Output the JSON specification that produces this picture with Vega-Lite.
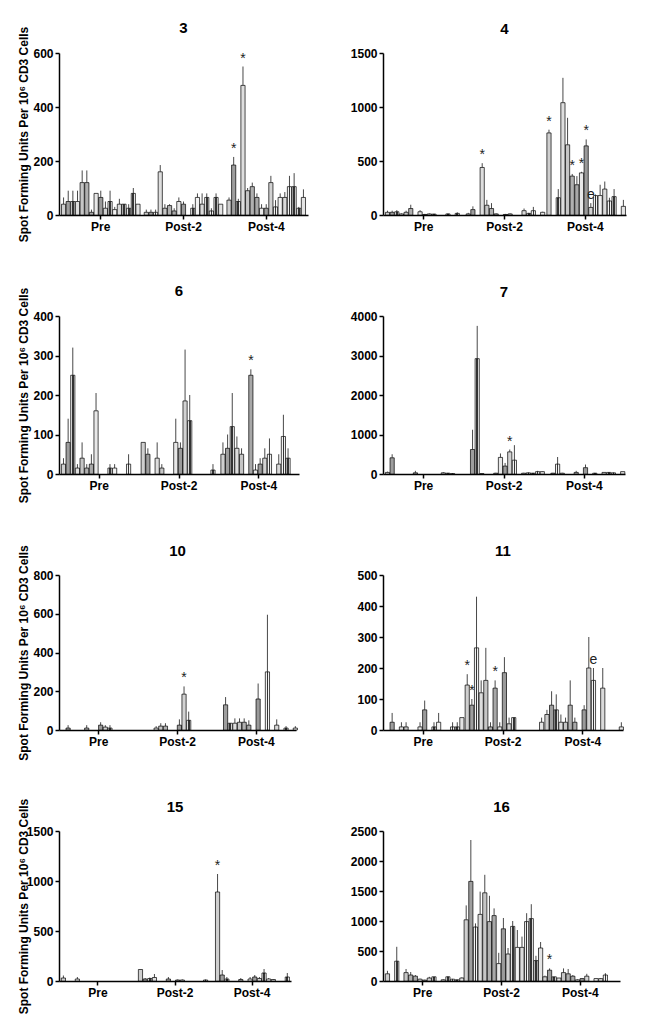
{
  "$schema": "https://vega.github.io/schema/vega-lite/v6.json",
  "background": "white",
  "padding": {"top": 21, "left": 16, "right": 5, "bottom": 5},
  "bounds": "flush",
  "data": {
    "values": [
      {"p":3,"g":"Pre","i":0,"v":40,"e":65},{"p":3,"g":"Pre","i":1,"v":50,"e":90},{"p":3,"g":"Pre","i":2,"v":50,"e":90},{"p":3,"g":"Pre","i":3,"v":50,"e":90},{"p":3,"g":"Pre","i":4,"v":120,"e":165},{"p":3,"g":"Pre","i":5,"v":120,"e":165},{"p":3,"g":"Pre","i":6,"v":10,"e":20},{"p":3,"g":"Pre","i":7,"v":80,"e":80},{"p":3,"g":"Pre","i":8,"v":65,"e":90},{"p":3,"g":"Pre","i":9,"v":25,"e":50},{"p":3,"g":"Pre","i":10,"v":50,"e":90},{"p":3,"g":"Pre","i":11,"v":20,"e":30},{"p":3,"g":"Pre","i":12,"v":40,"e":60},{"p":3,"g":"Pre","i":13,"v":40,"e":40},{"p":3,"g":"Pre","i":14,"v":25,"e":40},{"p":3,"g":"Pre","i":15,"v":80,"e":100},{"p":3,"g":"Pre","i":16,"v":40,"e":40},
      {"p":3,"g":"Post-2","i":0,"v":10,"e":20},{"p":3,"g":"Post-2","i":1,"v":10,"e":20},{"p":3,"g":"Post-2","i":2,"v":10,"e":20},{"p":3,"g":"Post-2","i":3,"v":160,"e":185},{"p":3,"g":"Post-2","i":4,"v":25,"e":40},{"p":3,"g":"Post-2","i":5,"v":35,"e":40},{"p":3,"g":"Post-2","i":6,"v":15,"e":25},{"p":3,"g":"Post-2","i":7,"v":50,"e":65},{"p":3,"g":"Post-2","i":8,"v":40,"e":50},{"p":3,"g":"Post-2","i":10,"v":25,"e":40},{"p":3,"g":"Post-2","i":11,"v":65,"e":80},{"p":3,"g":"Post-2","i":12,"v":40,"e":80},{"p":3,"g":"Post-2","i":13,"v":65,"e":80},{"p":3,"g":"Post-2","i":14,"v":15,"e":25},{"p":3,"g":"Post-2","i":15,"v":65,"e":80},{"p":3,"g":"Post-2","i":16,"v":40,"e":40},
      {"p":3,"g":"Post-4","i":0,"v":55,"e":65},{"p":3,"g":"Post-4","i":1,"v":185,"e":215,"s":"*"},{"p":3,"g":"Post-4","i":2,"v":50,"e":60},{"p":3,"g":"Post-4","i":3,"v":480,"e":550,"s":"*"},{"p":3,"g":"Post-4","i":4,"v":90,"e":100},{"p":3,"g":"Post-4","i":5,"v":105,"e":120},{"p":3,"g":"Post-4","i":6,"v":65,"e":80},{"p":3,"g":"Post-4","i":7,"v":25,"e":40},{"p":3,"g":"Post-4","i":8,"v":25,"e":40},{"p":3,"g":"Post-4","i":9,"v":120,"e":145},{"p":3,"g":"Post-4","i":10,"v":30,"e":55},{"p":3,"g":"Post-4","i":11,"v":65,"e":80},{"p":3,"g":"Post-4","i":12,"v":65,"e":85},{"p":3,"g":"Post-4","i":13,"v":105,"e":145},{"p":3,"g":"Post-4","i":14,"v":105,"e":155},{"p":3,"g":"Post-4","i":15,"v":25,"e":30},{"p":3,"g":"Post-4","i":16,"v":65,"e":95},

      {"p":4,"g":"Pre","i":0,"v":25,"e":40},{"p":4,"g":"Pre","i":1,"v":25,"e":40},{"p":4,"g":"Pre","i":2,"v":30,"e":45},{"p":4,"g":"Pre","i":3,"v":10,"e":15},{"p":4,"g":"Pre","i":4,"v":25,"e":40},{"p":4,"g":"Pre","i":5,"v":60,"e":95},{"p":4,"g":"Pre","i":7,"v":30,"e":45},{"p":4,"g":"Pre","i":8,"v":5,"e":10},{"p":4,"g":"Pre","i":9,"v":10,"e":15},{"p":4,"g":"Pre","i":10,"v":8,"e":12},{"p":4,"g":"Pre","i":13,"v":10,"e":15},{"p":4,"g":"Pre","i":15,"v":15,"e":25},
      {"p":4,"g":"Post-2","i":0,"v":10,"e":20},{"p":4,"g":"Post-2","i":1,"v":50,"e":80},{"p":4,"g":"Post-2","i":3,"v":440,"e":480,"s":"*"},{"p":4,"g":"Post-2","i":4,"v":90,"e":140},{"p":4,"g":"Post-2","i":5,"v":60,"e":110},{"p":4,"g":"Post-2","i":6,"v":10,"e":15},{"p":4,"g":"Post-2","i":8,"v":5,"e":10},{"p":4,"g":"Post-2","i":9,"v":10,"e":15},{"p":4,"g":"Post-2","i":12,"v":40,"e":60},{"p":4,"g":"Post-2","i":13,"v":15,"e":20},{"p":4,"g":"Post-2","i":14,"v":40,"e":75},{"p":4,"g":"Post-2","i":16,"v":25,"e":30},
      {"p":4,"g":"Post-4","i":0,"v":760,"e":790,"s":"*"},{"p":4,"g":"Post-4","i":2,"v":160,"e":240},{"p":4,"g":"Post-4","i":3,"v":1040,"e":1270},{"p":4,"g":"Post-4","i":4,"v":650,"e":900},{"p":4,"g":"Post-4","i":5,"v":360,"e":380,"s":"*"},{"p":4,"g":"Post-4","i":6,"v":280,"e":360},{"p":4,"g":"Post-4","i":7,"v":390,"e":400,"s":"*"},{"p":4,"g":"Post-4","i":8,"v":640,"e":700,"s":"*"},{"p":4,"g":"Post-4","i":9,"v":70,"e":110,"s":"e"},{"p":4,"g":"Post-4","i":10,"v":180,"e":190},{"p":4,"g":"Post-4","i":11,"v":180,"e":280},{"p":4,"g":"Post-4","i":12,"v":240,"e":310},{"p":4,"g":"Post-4","i":13,"v":130,"e":160},{"p":4,"g":"Post-4","i":14,"v":170,"e":240},{"p":4,"g":"Post-4","i":16,"v":80,"e":140},

      {"p":6,"g":"Pre","i":0,"v":25,"e":40},{"p":6,"g":"Pre","i":1,"v":80,"e":140},{"p":6,"g":"Pre","i":2,"v":250,"e":320},{"p":6,"g":"Pre","i":3,"v":15,"e":25},{"p":6,"g":"Pre","i":4,"v":40,"e":80},{"p":6,"g":"Pre","i":5,"v":15,"e":25},{"p":6,"g":"Pre","i":6,"v":25,"e":50},{"p":6,"g":"Pre","i":7,"v":160,"e":205},{"p":6,"g":"Pre","i":10,"v":15,"e":25},{"p":6,"g":"Pre","i":11,"v":15,"e":25},{"p":6,"g":"Pre","i":14,"v":25,"e":50},
      {"p":6,"g":"Post-2","i":0,"v":80,"e":80},{"p":6,"g":"Post-2","i":1,"v":50,"e":65},{"p":6,"g":"Post-2","i":3,"v":40,"e":80},{"p":6,"g":"Post-2","i":4,"v":15,"e":25},{"p":6,"g":"Post-2","i":7,"v":80,"e":140},{"p":6,"g":"Post-2","i":8,"v":65,"e":80},{"p":6,"g":"Post-2","i":9,"v":185,"e":315},{"p":6,"g":"Post-2","i":10,"v":135,"e":200},{"p":6,"g":"Post-2","i":15,"v":10,"e":25},
      {"p":6,"g":"Post-4","i":0,"v":50,"e":80},{"p":6,"g":"Post-4","i":1,"v":65,"e":100},{"p":6,"g":"Post-4","i":2,"v":120,"e":205},{"p":6,"g":"Post-4","i":3,"v":65,"e":95},{"p":6,"g":"Post-4","i":4,"v":50,"e":65},{"p":6,"g":"Post-4","i":6,"v":250,"e":265,"s":"*"},{"p":6,"g":"Post-4","i":7,"v":10,"e":25},{"p":6,"g":"Post-4","i":8,"v":25,"e":40},{"p":6,"g":"Post-4","i":9,"v":40,"e":65},{"p":6,"g":"Post-4","i":10,"v":50,"e":90},{"p":6,"g":"Post-4","i":12,"v":25,"e":50},{"p":6,"g":"Post-4","i":13,"v":95,"e":150},{"p":6,"g":"Post-4","i":14,"v":40,"e":65},

      {"p":7,"g":"Pre","i":0,"v":40,"e":60},{"p":7,"g":"Pre","i":1,"v":410,"e":500},{"p":7,"g":"Pre","i":6,"v":30,"e":80},{"p":7,"g":"Pre","i":12,"v":30,"e":50},{"p":7,"g":"Pre","i":13,"v":20,"e":30},{"p":7,"g":"Pre","i":14,"v":10,"e":20},
      {"p":7,"g":"Post-2","i":1,"v":620,"e":1120},{"p":7,"g":"Post-2","i":2,"v":2920,"e":3750},{"p":7,"g":"Post-2","i":3,"v":10,"e":20},{"p":7,"g":"Post-2","i":6,"v":20,"e":30},{"p":7,"g":"Post-2","i":7,"v":420,"e":520},{"p":7,"g":"Post-2","i":8,"v":200,"e":280},{"p":7,"g":"Post-2","i":9,"v":560,"e":620,"s":"*"},{"p":7,"g":"Post-2","i":10,"v":350,"e":730},{"p":7,"g":"Post-2","i":12,"v":20,"e":30},{"p":7,"g":"Post-2","i":13,"v":30,"e":40},{"p":7,"g":"Post-2","i":14,"v":20,"e":30},{"p":7,"g":"Post-2","i":15,"v":60,"e":80},{"p":7,"g":"Post-2","i":16,"v":60,"e":70},
      {"p":7,"g":"Post-4","i":1,"v":20,"e":30},{"p":7,"g":"Post-4","i":2,"v":250,"e":430},{"p":7,"g":"Post-4","i":3,"v":20,"e":30},{"p":7,"g":"Post-4","i":6,"v":40,"e":80},{"p":7,"g":"Post-4","i":8,"v":160,"e":240},{"p":7,"g":"Post-4","i":10,"v":20,"e":30},{"p":7,"g":"Post-4","i":12,"v":40,"e":50},{"p":7,"g":"Post-4","i":13,"v":40,"e":50},{"p":7,"g":"Post-4","i":14,"v":30,"e":40},{"p":7,"g":"Post-4","i":16,"v":60,"e":60},

      {"p":10,"g":"Pre","i":1,"v":10,"e":25},{"p":10,"g":"Pre","i":5,"v":10,"e":25},{"p":10,"g":"Pre","i":8,"v":25,"e":40},{"p":10,"g":"Pre","i":9,"v":15,"e":25},{"p":10,"g":"Pre","i":10,"v":10,"e":25},
      {"p":10,"g":"Post-2","i":3,"v":10,"e":20},{"p":10,"g":"Post-2","i":4,"v":20,"e":35},{"p":10,"g":"Post-2","i":5,"v":20,"e":35},{"p":10,"g":"Post-2","i":8,"v":25,"e":55},{"p":10,"g":"Post-2","i":9,"v":185,"e":225,"s":"*"},{"p":10,"g":"Post-2","i":10,"v":50,"e":95},
      {"p":10,"g":"Post-4","i":1,"v":130,"e":170},{"p":10,"g":"Post-4","i":2,"v":35,"e":35},{"p":10,"g":"Post-4","i":3,"v":35,"e":60},{"p":10,"g":"Post-4","i":4,"v":40,"e":60},{"p":10,"g":"Post-4","i":5,"v":40,"e":60},{"p":10,"g":"Post-4","i":6,"v":25,"e":50},{"p":10,"g":"Post-4","i":8,"v":160,"e":240},{"p":10,"g":"Post-4","i":10,"v":300,"e":595},{"p":10,"g":"Post-4","i":12,"v":25,"e":55},{"p":10,"g":"Post-4","i":14,"v":10,"e":20},{"p":10,"g":"Post-4","i":16,"v":10,"e":20},

      {"p":11,"g":"Pre","i":1,"v":25,"e":55},{"p":11,"g":"Pre","i":3,"v":10,"e":25},{"p":11,"g":"Pre","i":4,"v":10,"e":25},{"p":11,"g":"Pre","i":7,"v":10,"e":25},{"p":11,"g":"Pre","i":8,"v":65,"e":95},{"p":11,"g":"Pre","i":10,"v":10,"e":25},{"p":11,"g":"Pre","i":11,"v":25,"e":55},{"p":11,"g":"Pre","i":14,"v":10,"e":25},{"p":11,"g":"Pre","i":15,"v":10,"e":25},{"p":11,"g":"Pre","i":16,"v":40,"e":40},
      {"p":11,"g":"Post-2","i":0,"v":145,"e":180,"s":"*"},{"p":11,"g":"Post-2","i":1,"v":80,"e":100,"s":"*"},{"p":11,"g":"Post-2","i":2,"v":265,"e":430},{"p":11,"g":"Post-2","i":3,"v":120,"e":160},{"p":11,"g":"Post-2","i":4,"v":160,"e":265},{"p":11,"g":"Post-2","i":5,"v":10,"e":25},{"p":11,"g":"Post-2","i":6,"v":135,"e":160,"s":"*"},{"p":11,"g":"Post-2","i":7,"v":10,"e":25},{"p":11,"g":"Post-2","i":8,"v":185,"e":235},{"p":11,"g":"Post-2","i":9,"v":20,"e":40},{"p":11,"g":"Post-2","i":10,"v":40,"e":40},{"p":11,"g":"Post-2","i":16,"v":25,"e":40},
      {"p":11,"g":"Post-4","i":0,"v":50,"e":65},{"p":11,"g":"Post-4","i":1,"v":80,"e":125},{"p":11,"g":"Post-4","i":2,"v":65,"e":115},{"p":11,"g":"Post-4","i":3,"v":25,"e":50},{"p":11,"g":"Post-4","i":4,"v":25,"e":40},{"p":11,"g":"Post-4","i":5,"v":80,"e":160},{"p":11,"g":"Post-4","i":6,"v":25,"e":40},{"p":11,"g":"Post-4","i":8,"v":65,"e":80},{"p":11,"g":"Post-4","i":9,"v":200,"e":300},{"p":11,"g":"Post-4","i":10,"v":160,"e":200,"s":"e"},{"p":11,"g":"Post-4","i":12,"v":135,"e":200},{"p":11,"g":"Post-4","i":16,"v":10,"e":25},

      {"p":15,"g":"Pre","i":0,"v":30,"e":55},{"p":15,"g":"Pre","i":3,"v":20,"e":40},
      {"p":15,"g":"Post-2","i":0,"v":115,"e":115},{"p":15,"g":"Post-2","i":1,"v":20,"e":30},{"p":15,"g":"Post-2","i":2,"v":25,"e":35},{"p":15,"g":"Post-2","i":3,"v":35,"e":70},{"p":15,"g":"Post-2","i":6,"v":20,"e":40},{"p":15,"g":"Post-2","i":8,"v":10,"e":15},{"p":15,"g":"Post-2","i":9,"v":10,"e":15},{"p":15,"g":"Post-2","i":14,"v":10,"e":15},
      {"p":15,"g":"Post-4","i":0,"v":890,"e":1070,"s":"*"},{"p":15,"g":"Post-4","i":1,"v":60,"e":110},{"p":15,"g":"Post-4","i":2,"v":20,"e":40},{"p":15,"g":"Post-4","i":5,"v":15,"e":30},{"p":15,"g":"Post-4","i":7,"v":20,"e":40},{"p":15,"g":"Post-4","i":8,"v":40,"e":60},{"p":15,"g":"Post-4","i":9,"v":25,"e":40},{"p":15,"g":"Post-4","i":10,"v":80,"e":120},{"p":15,"g":"Post-4","i":11,"v":20,"e":30},{"p":15,"g":"Post-4","i":12,"v":15,"e":20},{"p":15,"g":"Post-4","i":15,"v":40,"e":80},

      {"p":16,"g":"Pre","i":0,"v":120,"e":170},{"p":16,"g":"Pre","i":2,"v":330,"e":570},{"p":16,"g":"Pre","i":4,"v":140,"e":200},{"p":16,"g":"Pre","i":5,"v":100,"e":150},{"p":16,"g":"Pre","i":6,"v":80,"e":100},{"p":16,"g":"Pre","i":7,"v":30,"e":40},{"p":16,"g":"Pre","i":8,"v":15,"e":20},{"p":16,"g":"Pre","i":9,"v":50,"e":70},{"p":16,"g":"Pre","i":10,"v":70,"e":70},{"p":16,"g":"Pre","i":12,"v":20,"e":30},{"p":16,"g":"Pre","i":13,"v":70,"e":80},{"p":16,"g":"Pre","i":14,"v":30,"e":35},{"p":16,"g":"Pre","i":15,"v":20,"e":25},{"p":16,"g":"Pre","i":16,"v":50,"e":60},
      {"p":16,"g":"Post-2","i":0,"v":1020,"e":1260},{"p":16,"g":"Post-2","i":1,"v":1660,"e":2350},{"p":16,"g":"Post-2","i":2,"v":900,"e":960},{"p":16,"g":"Post-2","i":3,"v":1110,"e":1490},{"p":16,"g":"Post-2","i":4,"v":1470,"e":1770},{"p":16,"g":"Post-2","i":5,"v":990,"e":1420},{"p":16,"g":"Post-2","i":6,"v":1090,"e":1210},{"p":16,"g":"Post-2","i":7,"v":290,"e":470},{"p":16,"g":"Post-2","i":8,"v":870,"e":1050},{"p":16,"g":"Post-2","i":9,"v":450,"e":550},{"p":16,"g":"Post-2","i":10,"v":910,"e":1000},{"p":16,"g":"Post-2","i":11,"v":560,"e":850},{"p":16,"g":"Post-2","i":12,"v":560,"e":740},{"p":16,"g":"Post-2","i":13,"v":990,"e":1130},{"p":16,"g":"Post-2","i":14,"v":1040,"e":1280},{"p":16,"g":"Post-2","i":15,"v":340,"e":420},{"p":16,"g":"Post-2","i":16,"v":550,"e":650},
      {"p":16,"g":"Post-4","i":0,"v":70,"e":90},{"p":16,"g":"Post-4","i":1,"v":180,"e":210,"s":"*"},{"p":16,"g":"Post-4","i":2,"v":70,"e":70},{"p":16,"g":"Post-4","i":3,"v":50,"e":50},{"p":16,"g":"Post-4","i":4,"v":140,"e":210},{"p":16,"g":"Post-4","i":5,"v":120,"e":200},{"p":16,"g":"Post-4","i":6,"v":80,"e":100},{"p":16,"g":"Post-4","i":7,"v":20,"e":30},{"p":16,"g":"Post-4","i":8,"v":40,"e":50},{"p":16,"g":"Post-4","i":9,"v":80,"e":120},{"p":16,"g":"Post-4","i":11,"v":40,"e":50},{"p":16,"g":"Post-4","i":12,"v":40,"e":50},{"p":16,"g":"Post-4","i":13,"v":100,"e":130}
    ]
  },
  "columns": 2,
  "spacing": {"row": 101, "column": 75},
  "concat": [
    {
      "title": {"text": "3", "offset": -10},
      "width": 249, "height": 162,
      "transform": [{"filter": "datum.p == 3"}],
      "encoding": {
        "x": {"field": "g", "type": "nominal", "title": null, "scale": {"domain": ["Pre", "Post-2", "Post-4"], "paddingInner": 0.05, "paddingOuter": 0.03}, "axis": {"labelAngle": 0}},
        "xOffset": {"field": "i", "type": "nominal", "scale": {"domain": [0,1,2,3,4,5,6,7,8,9,10,11,12,13,14,15,16], "paddingInner": 0.1}}
      },
      "layer": [
        {"transform": [{"filter": "datum.e > datum.v"}], "mark": {"type": "rule", "color": "#333", "strokeWidth": 0.9},
         "encoding": {"y": {"field": "v", "type": "quantitative", "title": "Spot Forming Units Per 10⁶ CD3 Cells", "scale": {"domain": [0, 600], "nice": false}, "axis": {"values": [0, 200, 400, 600], "format": "d"}}, "y2": {"field": "e"}}},
        {"mark": {"type": "bar", "stroke": "black", "strokeWidth": 0.7},
         "encoding": {"y": {"field": "v", "type": "quantitative", "title": "Spot Forming Units Per 10⁶ CD3 Cells", "axis": {"values": [0, 200, 400, 600], "format": "d"}},
           "color": {"condition": [{"test": "indexof([2,10,13,14,15], datum.i) >= 0", "value": {"gradient": "linear", "x1": 0, "y1": 0, "x2": 1, "y2": 0, "stops": [{"offset": 0, "color": "#f2f2f2"}, {"offset": 0.3, "color": "#f2f2f2"}, {"offset": 0.3, "color": "#333"}, {"offset": 0.7, "color": "#333"}, {"offset": 0.7, "color": "#f2f2f2"}, {"offset": 1, "color": "#f2f2f2"}]}}],
             "field": "i", "type": "nominal", "legend": null,
             "scale": {"domain": [0,1,2,3,4,5,6,7,8,9,10,11,12,13,14,15,16], "range": ["#cfcfcf", "#9e9e9e", "#666", "#dedede", "#c6c6c6", "#b0b0b0", "#a8a8a8", "#e8e8e8", "#9a9a9a", "#d2d2d2", "#777", "#f2f2f2", "#dadada", "#888", "#5a5a5a", "#666", "#e4e4e4"]}}}},
        {"transform": [{"filter": "datum.s"}], "mark": {"type": "text", "dy": -8, "fontSize": 14, "color": "#222"},
         "encoding": {"y": {"field": "e", "type": "quantitative", "title": "Spot Forming Units Per 10⁶ CD3 Cells", "axis": {"values": [0, 200, 400, 600], "format": "d"}}, "text": {"field": "s"}}}
      ]
    },
    {
      "title": {"text": "4", "offset": 10},
      "width": 243, "height": 162,
      "transform": [{"filter": "datum.p == 4"}],
      "encoding": {
        "x": {"field": "g", "type": "nominal", "title": null, "scale": {"domain": ["Pre", "Post-2", "Post-4"], "paddingInner": 0.05, "paddingOuter": 0.03}, "axis": {"labelAngle": 0}},
        "xOffset": {"field": "i", "type": "nominal", "scale": {"domain": [0,1,2,3,4,5,6,7,8,9,10,11,12,13,14,15,16], "paddingInner": 0.1}}
      },
      "layer": [
        {"transform": [{"filter": "datum.e > datum.v"}], "mark": {"type": "rule", "color": "#333", "strokeWidth": 0.9},
         "encoding": {"y": {"field": "v", "type": "quantitative", "title": null, "scale": {"domain": [0, 1500], "nice": false}, "axis": {"values": [0, 500, 1000, 1500], "format": "d"}}, "y2": {"field": "e"}}},
        {"mark": {"type": "bar", "stroke": "black", "strokeWidth": 0.7},
         "encoding": {"y": {"field": "v", "type": "quantitative", "title": null, "axis": {"values": [0, 500, 1000, 1500], "format": "d"}},
           "color": {"condition": [{"test": "indexof([2,10,13,14,15], datum.i) >= 0", "value": {"gradient": "linear", "x1": 0, "y1": 0, "x2": 1, "y2": 0, "stops": [{"offset": 0, "color": "#f2f2f2"}, {"offset": 0.3, "color": "#f2f2f2"}, {"offset": 0.3, "color": "#333"}, {"offset": 0.7, "color": "#333"}, {"offset": 0.7, "color": "#f2f2f2"}, {"offset": 1, "color": "#f2f2f2"}]}}],
             "field": "i", "type": "nominal", "legend": null,
             "scale": {"domain": [0,1,2,3,4,5,6,7,8,9,10,11,12,13,14,15,16], "range": ["#cfcfcf", "#9e9e9e", "#666", "#dedede", "#c6c6c6", "#b0b0b0", "#a8a8a8", "#e8e8e8", "#9a9a9a", "#d2d2d2", "#777", "#f2f2f2", "#dadada", "#888", "#5a5a5a", "#666", "#e4e4e4"]}}}},
        {"transform": [{"filter": "datum.s"}], "mark": {"type": "text", "dy": -8, "fontSize": 14, "color": "#222"},
         "encoding": {"y": {"field": "e", "type": "quantitative", "title": null, "axis": {"values": [0, 500, 1000, 1500], "format": "d"}}, "text": {"field": "s"}}}
      ]
    },
    {
      "title": {"text": "6", "offset": -12},
      "width": 240, "height": 158,
      "transform": [{"filter": "datum.p == 6"}],
      "encoding": {
        "x": {"field": "g", "type": "nominal", "title": null, "scale": {"domain": ["Pre", "Post-2", "Post-4"], "paddingInner": 0.05, "paddingOuter": 0.03}, "axis": {"labelAngle": 0}},
        "xOffset": {"field": "i", "type": "nominal", "scale": {"domain": [0,1,2,3,4,5,6,7,8,9,10,11,12,13,14,15,16], "paddingInner": 0.1}}
      },
      "layer": [
        {"transform": [{"filter": "datum.e > datum.v"}], "mark": {"type": "rule", "color": "#333", "strokeWidth": 0.9},
         "encoding": {"y": {"field": "v", "type": "quantitative", "title": "Spot Forming Units Per 10⁶ CD3 Cells", "scale": {"domain": [0, 400], "nice": false}, "axis": {"values": [0, 100, 200, 300, 400], "format": "d"}}, "y2": {"field": "e"}}},
        {"mark": {"type": "bar", "stroke": "black", "strokeWidth": 0.7},
         "encoding": {"y": {"field": "v", "type": "quantitative", "title": "Spot Forming Units Per 10⁶ CD3 Cells", "axis": {"values": [0, 100, 200, 300, 400], "format": "d"}},
           "color": {"condition": [{"test": "indexof([2,10,13,14,15], datum.i) >= 0", "value": {"gradient": "linear", "x1": 0, "y1": 0, "x2": 1, "y2": 0, "stops": [{"offset": 0, "color": "#f2f2f2"}, {"offset": 0.3, "color": "#f2f2f2"}, {"offset": 0.3, "color": "#333"}, {"offset": 0.7, "color": "#333"}, {"offset": 0.7, "color": "#f2f2f2"}, {"offset": 1, "color": "#f2f2f2"}]}}],
             "field": "i", "type": "nominal", "legend": null,
             "scale": {"domain": [0,1,2,3,4,5,6,7,8,9,10,11,12,13,14,15,16], "range": ["#cfcfcf", "#9e9e9e", "#666", "#dedede", "#c6c6c6", "#b0b0b0", "#a8a8a8", "#e8e8e8", "#9a9a9a", "#d2d2d2", "#777", "#f2f2f2", "#dadada", "#888", "#5a5a5a", "#666", "#e4e4e4"]}}}},
        {"transform": [{"filter": "datum.s"}], "mark": {"type": "text", "dy": -8, "fontSize": 14, "color": "#222"},
         "encoding": {"y": {"field": "e", "type": "quantitative", "title": "Spot Forming Units Per 10⁶ CD3 Cells", "axis": {"values": [0, 100, 200, 300, 400], "format": "d"}}, "text": {"field": "s"}}}
      ]
    },
    {
      "title": {"text": "7", "offset": 10},
      "width": 242, "height": 158,
      "transform": [{"filter": "datum.p == 7"}],
      "encoding": {
        "x": {"field": "g", "type": "nominal", "title": null, "scale": {"domain": ["Pre", "Post-2", "Post-4"], "paddingInner": 0.05, "paddingOuter": 0.03}, "axis": {"labelAngle": 0}},
        "xOffset": {"field": "i", "type": "nominal", "scale": {"domain": [0,1,2,3,4,5,6,7,8,9,10,11,12,13,14,15,16], "paddingInner": 0.1}}
      },
      "layer": [
        {"transform": [{"filter": "datum.e > datum.v"}], "mark": {"type": "rule", "color": "#333", "strokeWidth": 0.9},
         "encoding": {"y": {"field": "v", "type": "quantitative", "title": null, "scale": {"domain": [0, 4000], "nice": false}, "axis": {"values": [0, 1000, 2000, 3000, 4000], "format": "d"}}, "y2": {"field": "e"}}},
        {"mark": {"type": "bar", "stroke": "black", "strokeWidth": 0.7},
         "encoding": {"y": {"field": "v", "type": "quantitative", "title": null, "axis": {"values": [0, 1000, 2000, 3000, 4000], "format": "d"}},
           "color": {"condition": [{"test": "indexof([2,10,13,14,15], datum.i) >= 0", "value": {"gradient": "linear", "x1": 0, "y1": 0, "x2": 1, "y2": 0, "stops": [{"offset": 0, "color": "#f2f2f2"}, {"offset": 0.3, "color": "#f2f2f2"}, {"offset": 0.3, "color": "#333"}, {"offset": 0.7, "color": "#333"}, {"offset": 0.7, "color": "#f2f2f2"}, {"offset": 1, "color": "#f2f2f2"}]}}],
             "field": "i", "type": "nominal", "legend": null,
             "scale": {"domain": [0,1,2,3,4,5,6,7,8,9,10,11,12,13,14,15,16], "range": ["#cfcfcf", "#9e9e9e", "#666", "#dedede", "#c6c6c6", "#b0b0b0", "#a8a8a8", "#e8e8e8", "#9a9a9a", "#d2d2d2", "#777", "#f2f2f2", "#dadada", "#888", "#5a5a5a", "#666", "#e4e4e4"]}}}},
        {"transform": [{"filter": "datum.s"}], "mark": {"type": "text", "dy": -8, "fontSize": 14, "color": "#222"},
         "encoding": {"y": {"field": "e", "type": "quantitative", "title": null, "axis": {"values": [0, 1000, 2000, 3000, 4000], "format": "d"}}, "text": {"field": "s"}}}
      ]
    },
    {
      "title": {"text": "10", "offset": -14},
      "width": 237, "height": 155,
      "transform": [{"filter": "datum.p == 10"}],
      "encoding": {
        "x": {"field": "g", "type": "nominal", "title": null, "scale": {"domain": ["Pre", "Post-2", "Post-4"], "paddingInner": 0.05, "paddingOuter": 0.03}, "axis": {"labelAngle": 0}},
        "xOffset": {"field": "i", "type": "nominal", "scale": {"domain": [0,1,2,3,4,5,6,7,8,9,10,11,12,13,14,15,16], "paddingInner": 0.1}}
      },
      "layer": [
        {"transform": [{"filter": "datum.e > datum.v"}], "mark": {"type": "rule", "color": "#333", "strokeWidth": 0.9},
         "encoding": {"y": {"field": "v", "type": "quantitative", "title": "Spot Forming Units Per 10⁶ CD3 Cells", "scale": {"domain": [0, 800], "nice": false}, "axis": {"values": [0, 200, 400, 600, 800], "format": "d"}}, "y2": {"field": "e"}}},
        {"mark": {"type": "bar", "stroke": "black", "strokeWidth": 0.7},
         "encoding": {"y": {"field": "v", "type": "quantitative", "title": "Spot Forming Units Per 10⁶ CD3 Cells", "axis": {"values": [0, 200, 400, 600, 800], "format": "d"}},
           "color": {"condition": [{"test": "indexof([2,10,13,14,15], datum.i) >= 0", "value": {"gradient": "linear", "x1": 0, "y1": 0, "x2": 1, "y2": 0, "stops": [{"offset": 0, "color": "#f2f2f2"}, {"offset": 0.3, "color": "#f2f2f2"}, {"offset": 0.3, "color": "#333"}, {"offset": 0.7, "color": "#333"}, {"offset": 0.7, "color": "#f2f2f2"}, {"offset": 1, "color": "#f2f2f2"}]}}],
             "field": "i", "type": "nominal", "legend": null,
             "scale": {"domain": [0,1,2,3,4,5,6,7,8,9,10,11,12,13,14,15,16], "range": ["#cfcfcf", "#9e9e9e", "#666", "#dedede", "#c6c6c6", "#b0b0b0", "#a8a8a8", "#e8e8e8", "#9a9a9a", "#d2d2d2", "#777", "#f2f2f2", "#dadada", "#888", "#5a5a5a", "#666", "#e4e4e4"]}}}},
        {"transform": [{"filter": "datum.s"}], "mark": {"type": "text", "dy": -8, "fontSize": 14, "color": "#222"},
         "encoding": {"y": {"field": "e", "type": "quantitative", "title": "Spot Forming Units Per 10⁶ CD3 Cells", "axis": {"values": [0, 200, 400, 600, 800], "format": "d"}}, "text": {"field": "s"}}}
      ]
    },
    {
      "title": {"text": "11", "offset": 10},
      "width": 240, "height": 155,
      "transform": [{"filter": "datum.p == 11"}],
      "encoding": {
        "x": {"field": "g", "type": "nominal", "title": null, "scale": {"domain": ["Pre", "Post-2", "Post-4"], "paddingInner": 0.05, "paddingOuter": 0.03}, "axis": {"labelAngle": 0}},
        "xOffset": {"field": "i", "type": "nominal", "scale": {"domain": [0,1,2,3,4,5,6,7,8,9,10,11,12,13,14,15,16], "paddingInner": 0.1}}
      },
      "layer": [
        {"transform": [{"filter": "datum.e > datum.v"}], "mark": {"type": "rule", "color": "#333", "strokeWidth": 0.9},
         "encoding": {"y": {"field": "v", "type": "quantitative", "title": null, "scale": {"domain": [0, 500], "nice": false}, "axis": {"values": [0, 100, 200, 300, 400, 500], "format": "d"}}, "y2": {"field": "e"}}},
        {"mark": {"type": "bar", "stroke": "black", "strokeWidth": 0.7},
         "encoding": {"y": {"field": "v", "type": "quantitative", "title": null, "axis": {"values": [0, 100, 200, 300, 400, 500], "format": "d"}},
           "color": {"condition": [{"test": "indexof([2,10,13,14,15], datum.i) >= 0", "value": {"gradient": "linear", "x1": 0, "y1": 0, "x2": 1, "y2": 0, "stops": [{"offset": 0, "color": "#f2f2f2"}, {"offset": 0.3, "color": "#f2f2f2"}, {"offset": 0.3, "color": "#333"}, {"offset": 0.7, "color": "#333"}, {"offset": 0.7, "color": "#f2f2f2"}, {"offset": 1, "color": "#f2f2f2"}]}}],
             "field": "i", "type": "nominal", "legend": null,
             "scale": {"domain": [0,1,2,3,4,5,6,7,8,9,10,11,12,13,14,15,16], "range": ["#cfcfcf", "#9e9e9e", "#666", "#dedede", "#c6c6c6", "#b0b0b0", "#a8a8a8", "#e8e8e8", "#9a9a9a", "#d2d2d2", "#777", "#f2f2f2", "#dadada", "#888", "#5a5a5a", "#666", "#e4e4e4"]}}}},
        {"transform": [{"filter": "datum.s"}], "mark": {"type": "text", "dy": -8, "fontSize": 14, "color": "#222"},
         "encoding": {"y": {"field": "e", "type": "quantitative", "title": null, "axis": {"values": [0, 100, 200, 300, 400, 500], "format": "d"}}, "text": {"field": "s"}}}
      ]
    },
    {
      "title": {"text": "15", "offset": -17},
      "width": 232, "height": 150,
      "transform": [{"filter": "datum.p == 15"}],
      "encoding": {
        "x": {"field": "g", "type": "nominal", "title": null, "scale": {"domain": ["Pre", "Post-2", "Post-4"], "paddingInner": 0.05, "paddingOuter": 0.03}, "axis": {"labelAngle": 0}},
        "xOffset": {"field": "i", "type": "nominal", "scale": {"domain": [0,1,2,3,4,5,6,7,8,9,10,11,12,13,14,15,16], "paddingInner": 0.1}}
      },
      "layer": [
        {"transform": [{"filter": "datum.e > datum.v"}], "mark": {"type": "rule", "color": "#333", "strokeWidth": 0.9},
         "encoding": {"y": {"field": "v", "type": "quantitative", "title": "Spot Forming Units Per 10⁶ CD3 Cells", "scale": {"domain": [0, 1500], "nice": false}, "axis": {"values": [0, 500, 1000, 1500], "format": "d"}}, "y2": {"field": "e"}}},
        {"mark": {"type": "bar", "stroke": "black", "strokeWidth": 0.7},
         "encoding": {"y": {"field": "v", "type": "quantitative", "title": "Spot Forming Units Per 10⁶ CD3 Cells", "axis": {"values": [0, 500, 1000, 1500], "format": "d"}},
           "color": {"condition": [{"test": "indexof([2,10,13,14,15], datum.i) >= 0", "value": {"gradient": "linear", "x1": 0, "y1": 0, "x2": 1, "y2": 0, "stops": [{"offset": 0, "color": "#f2f2f2"}, {"offset": 0.3, "color": "#f2f2f2"}, {"offset": 0.3, "color": "#333"}, {"offset": 0.7, "color": "#333"}, {"offset": 0.7, "color": "#f2f2f2"}, {"offset": 1, "color": "#f2f2f2"}]}}],
             "field": "i", "type": "nominal", "legend": null,
             "scale": {"domain": [0,1,2,3,4,5,6,7,8,9,10,11,12,13,14,15,16], "range": ["#cfcfcf", "#9e9e9e", "#666", "#dedede", "#c6c6c6", "#b0b0b0", "#a8a8a8", "#e8e8e8", "#9a9a9a", "#d2d2d2", "#777", "#f2f2f2", "#dadada", "#888", "#5a5a5a", "#666", "#e4e4e4"]}}}},
        {"transform": [{"filter": "datum.s"}], "mark": {"type": "text", "dy": -8, "fontSize": 14, "color": "#222"},
         "encoding": {"y": {"field": "e", "type": "quantitative", "title": "Spot Forming Units Per 10⁶ CD3 Cells", "axis": {"values": [0, 500, 1000, 1500], "format": "d"}}, "text": {"field": "s"}}}
      ]
    },
    {
      "title": {"text": "16", "offset": 10},
      "width": 237, "height": 150,
      "transform": [{"filter": "datum.p == 16"}],
      "encoding": {
        "x": {"field": "g", "type": "nominal", "title": null, "scale": {"domain": ["Pre", "Post-2", "Post-4"], "paddingInner": 0.05, "paddingOuter": 0.03}, "axis": {"labelAngle": 0}},
        "xOffset": {"field": "i", "type": "nominal", "scale": {"domain": [0,1,2,3,4,5,6,7,8,9,10,11,12,13,14,15,16], "paddingInner": 0.1}}
      },
      "layer": [
        {"transform": [{"filter": "datum.e > datum.v"}], "mark": {"type": "rule", "color": "#333", "strokeWidth": 0.9},
         "encoding": {"y": {"field": "v", "type": "quantitative", "title": null, "scale": {"domain": [0, 2500], "nice": false}, "axis": {"values": [0, 500, 1000, 1500, 2000, 2500], "format": "d"}}, "y2": {"field": "e"}}},
        {"mark": {"type": "bar", "stroke": "black", "strokeWidth": 0.7},
         "encoding": {"y": {"field": "v", "type": "quantitative", "title": null, "axis": {"values": [0, 500, 1000, 1500, 2000, 2500], "format": "d"}},
           "color": {"condition": [{"test": "indexof([2,10,13,14,15], datum.i) >= 0", "value": {"gradient": "linear", "x1": 0, "y1": 0, "x2": 1, "y2": 0, "stops": [{"offset": 0, "color": "#f2f2f2"}, {"offset": 0.3, "color": "#f2f2f2"}, {"offset": 0.3, "color": "#333"}, {"offset": 0.7, "color": "#333"}, {"offset": 0.7, "color": "#f2f2f2"}, {"offset": 1, "color": "#f2f2f2"}]}}],
             "field": "i", "type": "nominal", "legend": null,
             "scale": {"domain": [0,1,2,3,4,5,6,7,8,9,10,11,12,13,14,15,16], "range": ["#cfcfcf", "#9e9e9e", "#666", "#dedede", "#c6c6c6", "#b0b0b0", "#a8a8a8", "#e8e8e8", "#9a9a9a", "#d2d2d2", "#777", "#f2f2f2", "#dadada", "#888", "#5a5a5a", "#666", "#e4e4e4"]}}}},
        {"transform": [{"filter": "datum.s"}], "mark": {"type": "text", "dy": -8, "fontSize": 14, "color": "#222"},
         "encoding": {"y": {"field": "e", "type": "quantitative", "title": null, "axis": {"values": [0, 500, 1000, 1500, 2000, 2500], "format": "d"}}, "text": {"field": "s"}}}
      ]
    }
  ],
  "config": {
    "font": "Liberation Sans",
    "view": {"stroke": null},
    "axis": {"grid": false, "labelOverlap": false, "labelFontWeight": "bold", "labelFontSize": 12, "labelColor": "black", "domainColor": "black", "domainWidth": 1.5, "tickColor": "black", "tickWidth": 1.5, "tickSize": 4, "labelPadding": 2, "titleFontSize": 12, "titleFontWeight": "bold", "titleColor": "black", "titlePadding": 3},
    "axisY": {"titleX": -29},
    "title": {"fontSize": 15, "fontWeight": "bold", "color": "black"}
  }
}
